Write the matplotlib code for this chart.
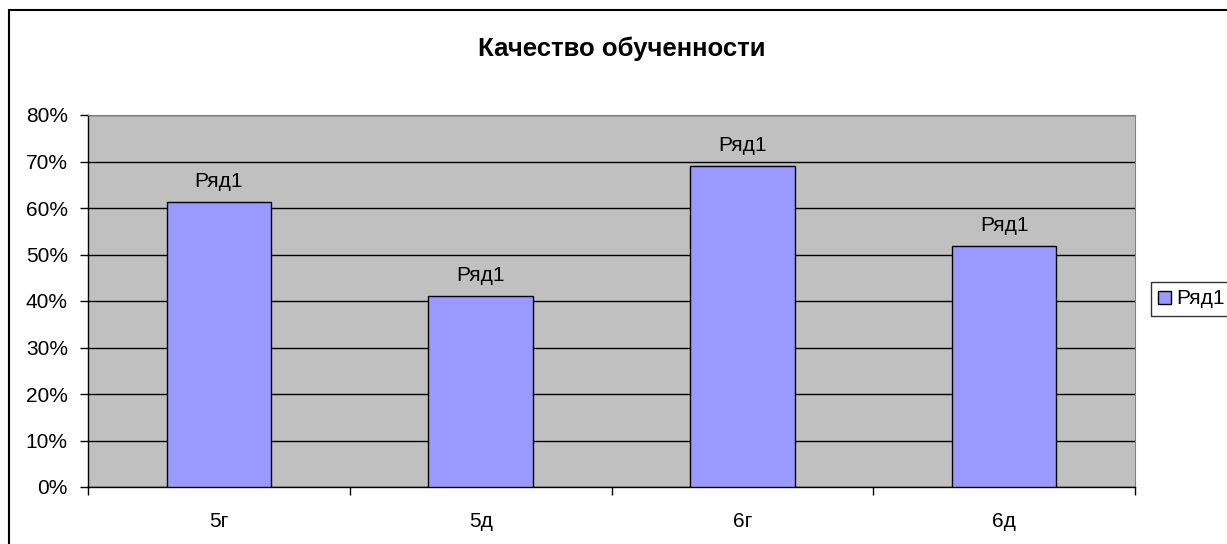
import matplotlib
matplotlib.use("Agg")
import matplotlib.pyplot as plt
from matplotlib.patches import Rectangle, Patch
from matplotlib.ticker import PercentFormatter

plt.rcParams['font.family'] = ['Liberation Sans', 'DejaVu Sans']

# данные
categories = ["5г", "5д", "6г", "6д"]
values = [0.613, 0.411, 0.690, 0.518]
series_name = "Ряд1"
title = "Качество обученности"

W, H = 1227, 544
fig = plt.figure(figsize=(W / 100, H / 100), dpi=100)

# рамка вокруг диаграммы
fig.patches.append(Rectangle((9 / W, -0.1), 1.2, (H - 10) / H + 0.1,
                             transform=fig.transFigure, fill=False,
                             edgecolor="black", linewidth=1.5))

ax = fig.add_axes([88 / W, (H - 487) / H, (1135 - 88) / W, (487 - 115) / H])
ax.set_facecolor("#C0C0C0")

x = list(range(len(categories)))
bars = ax.bar(x, values, width=0.4, color="#9999FF", edgecolor="black",
              linewidth=1.0, zorder=3)

for b in bars:
    ax.annotate(series_name, (b.get_x() + b.get_width() / 2, b.get_height()),
                xytext=(0, 11), textcoords="offset points",
                ha="center", va="baseline", fontsize=15)

ax.set_xlim(-0.5, len(categories) - 0.5)
ax.set_ylim(0, 0.8)
ax.set_yticks([i / 10 for i in range(9)])
ax.yaxis.set_major_formatter(PercentFormatter(1.0, decimals=0))
ax.grid(axis="y", color="black", linewidth=1.0, zorder=1)
ax.set_axisbelow(True)

# деления на границах категорий, подписи по центрам
ax.set_xticks([i - 0.5 for i in range(len(categories) + 1)])
ax.set_xticklabels([])
ax.set_xticks(x, minor=True)
ax.set_xticklabels(categories, minor=True)
ax.tick_params(axis="x", which="major", length=6, width=1, direction="out")
ax.tick_params(axis="x", which="minor", length=0, pad=18, labelsize=15)
ax.tick_params(axis="y", length=6, width=1, direction="out", pad=8.5, labelsize=15)

for s in ["top", "right"]:
    ax.spines[s].set_color("#808080")
for s in ["left", "bottom"]:
    ax.spines[s].set_color("black")
    ax.spines[s].set_linewidth(1.0)

fig.text(622 / W, 1 - 49 / H, title, ha="center", va="center",
         fontsize=18.5, fontweight="bold")

fig.legend(handles=[Patch(facecolor="#9999FF", edgecolor="black", label=series_name)],
           loc="center left", bbox_to_anchor=(1151 / W, 1 - 299 / H),
           frameon=True, fancybox=False, edgecolor="black", fontsize=15,
           handlelength=0.6, handleheight=0.6, handletextpad=0.25,
           borderpad=0.35, borderaxespad=0)

fig.savefig("out.png", dpi=100, facecolor="white")
